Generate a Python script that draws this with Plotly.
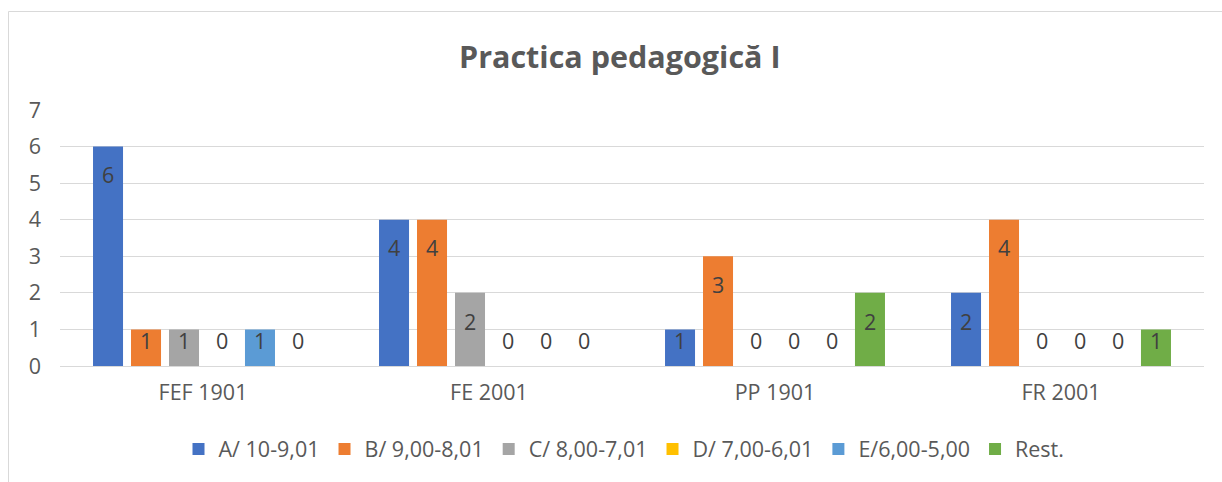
import plotly.graph_objects as go

# Study programmes (x categories) and grade bands (series)
categories = ["FEF 1901", "FE 2001", "PP 1901", "FR 2001"]
series_names = ["A/ 10-9,01", "B/ 9,00-8,01", "C/ 8,00-7,01",
                "D/ 7,00-6,01", "E/6,00-5,00", "Rest."]

band_a = [6, 4, 1, 2]
band_b = [1, 4, 3, 4]
band_c = [1, 2, 0, 0]
band_d = [0, 0, 0, 0]
band_e = [1, 0, 0, 0]
rest = [0, 0, 2, 1]

y_ticks = [0, 1, 2, 3, 4, 5, 6, 7]

all_series = [band_a, band_b, band_c, band_d, band_e, rest]
colors = ["#4472C4", "#ED7D31", "#A5A5A5", "#FFC000", "#5B9BD5", "#70AD47"]

FONT = "'Open Sans', sans-serif"
TXT = 21.5
BARGAP = 0.203
BARGROUPGAP = 0.21

fig = go.Figure()
for name, vals, col in zip(series_names, all_series, colors):
    fig.add_trace(go.Bar(
        x=categories, y=vals, name=name,
        marker=dict(color=col, line=dict(width=0)),
        hoverinfo="x+y+name",
    ))

W, H = 1222, 482
L, R, T, B = 60, 18, 110, 116
pw, ph = W - L - R, H - T - B


def px_x(x):
    return (x - L) / pw


def px_y(y):
    return (H - B - y) / ph


# Value labels: near the top inside each bar, zero values just above the axis
n = len(all_series)
slot = (1 - BARGAP) / n
annotations = []
for i, vals in enumerate(all_series):
    for j, v in enumerate(vals):
        ly = max(v - 0.77, 0.71)
        annotations.append(dict(
            x=j + (i - (n - 1) / 2) * slot, y=ly, xref="x", yref="y",
            text=str(v), showarrow=False, yanchor="middle", xanchor="center",
            font=dict(family=FONT, size=TXT, color="#404040"),
        ))

# Chart title
annotations.append(dict(
    x=px_x(620), y=px_y(56), xref="paper", yref="paper",
    text="<b>Practica pedagogică I</b>",
    showarrow=False, font=dict(family=FONT, size=30.5, color="#595959"),
    xanchor="center", yanchor="middle",
))

fig.update_layout(
    width=W, height=H,
    margin=dict(l=L, r=R, t=T, b=B, pad=0),
    paper_bgcolor="white", plot_bgcolor="white",
    barmode="group", bargap=BARGAP, bargroupgap=BARGROUPGAP,
    font=dict(family=FONT, size=TXT, color="#595959"),
    annotations=annotations,
    showlegend=True,
    legend=dict(
        orientation="h", x=px_x(624), xanchor="center",
        y=px_y(449), yanchor="middle",
        font=dict(family=FONT, size=TXT, color="#595959"),
        itemwidth=30, traceorder="normal",
    ),
    shapes=[dict(
        type="rect", xref="paper", yref="paper",
        x0=px_x(8.5), x1=px_x(1240), y0=px_y(11.5), y1=px_y(500),
        line=dict(color="#D9D9D9", width=1), fillcolor="rgba(0,0,0,0)",
        layer="below",
    )],
    xaxis=dict(
        type="category", showgrid=False, showline=False, zeroline=False,
        ticks="", tickfont=dict(family=FONT, size=TXT, color="#595959"),
        ticklabelstandoff=11,
    ),
    yaxis=dict(
        range=[0, 7], tickvals=y_ticks, showgrid=True, gridcolor="#D9D9D9",
        gridwidth=1, zeroline=True, zerolinecolor="#D9D9D9", zerolinewidth=1,
        showline=False, ticks="", ticklabelstandoff=18,
        tickfont=dict(family=FONT, size=TXT, color="#595959"),
    ),
)

fig.write_html("out.html")
